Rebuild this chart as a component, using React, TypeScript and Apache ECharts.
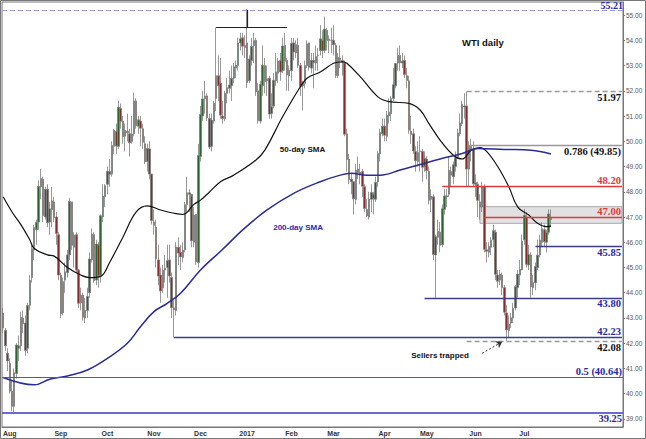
import React, { useEffect, useRef } from "react";
import * as echarts from "echarts";

// ---------- calendar (trading days, US holidays removed) ----------
const FIRST_DAY = [2016, 6, 27];
const SLOT_COUNT = 280;
const HOLIDAYS = [
  "2016-09-05", "2016-11-24", "2016-12-26", "2017-01-02", "2017-01-16",
  "2017-02-20", "2017-04-14", "2017-05-29", "2017-07-04", "2017-09-04",
];
const MONTHS = ["Jan", "Feb", "Mar", "Apr", "May", "Jun", "Jul", "Aug", "Sep", "Oct", "Nov", "Dec"];

// ---------- daily candles [open, close, low, high] ----------
const ohlc: number[][] = [
  // Jul 2016
  [43.2, 42.6, 42.4, 43.4], [42.5, 41.9, 41.7, 42.6], [41.6, 41.3, 40.9, 41.8],
  // Aug
  [41.2, 40.1, 40.0, 41.4], [40.1, 39.5, 39.3, 40.5], [39.5, 40.83, 39.19, 41.0], [40.8, 41.93, 40.6, 42.0],
  [41.9, 41.8, 41.3, 42.3], [41.9, 43.02, 41.7, 43.25], [43.0, 42.77, 42.4, 43.3], [42.8, 41.71, 41.5, 43.1],
  [41.8, 43.49, 41.6, 43.6], [43.5, 44.49, 43.3, 44.7], [44.6, 45.74, 44.4, 45.9], [45.7, 46.58, 45.3, 46.7],
  [46.5, 46.79, 45.9, 46.9], [46.8, 48.22, 46.5, 48.45], [48.2, 48.52, 47.7, 48.9], [48.5, 47.05, 46.8, 48.6],
  [47.0, 48.1, 46.9, 48.2], [48.1, 46.77, 46.6, 48.3], [46.8, 47.33, 46.3, 47.6], [47.3, 47.64, 46.6, 48.2],
  [47.6, 46.98, 46.8, 47.8], [47.0, 46.35, 45.9, 47.2], [46.3, 44.7, 44.5, 46.4],
  // Sep
  [44.7, 43.16, 43.0, 44.8], [43.2, 44.44, 43.1, 44.6], [44.5, 44.83, 44.0, 45.2], [44.8, 45.5, 44.6, 45.7],
  [45.5, 47.62, 45.3, 47.75], [47.6, 45.88, 45.7, 47.6], [45.8, 46.29, 45.0, 46.4], [46.3, 44.9, 44.8, 46.4],
  [44.9, 43.58, 43.4, 44.95], [43.6, 43.91, 43.3, 44.2], [43.9, 43.03, 42.9, 44.0], [43.0, 43.3, 42.8, 43.8],
  [43.3, 43.85, 43.0, 44.2], [44.0, 45.34, 43.8, 45.6], [45.3, 46.32, 45.2, 46.55], [46.3, 44.48, 44.4, 46.4],
  [44.5, 45.93, 44.3, 46.1], [45.9, 44.67, 44.2, 46.0], [44.7, 47.05, 44.4, 47.1], [47.0, 47.83, 46.8, 48.3],
  [47.8, 48.24, 47.4, 48.3],
  // Oct
  [48.3, 48.81, 47.9, 49.0], [48.8, 48.69, 48.2, 49.3], [48.7, 49.83, 48.6, 50.0], [49.8, 50.44, 49.5, 50.5],
  [50.4, 49.81, 49.5, 50.7], [49.8, 51.35, 49.7, 51.6], [51.3, 50.79, 50.5, 51.5], [50.8, 50.18, 49.9, 51.0],
  [50.2, 50.44, 49.6, 50.7], [50.4, 50.35, 50.0, 51.1], [50.3, 49.94, 49.4, 50.5], [50.0, 50.29, 49.9, 51.0],
  [50.3, 51.6, 50.2, 51.93], [51.6, 50.63, 50.5, 51.7], [50.6, 50.85, 50.3, 51.0], [50.8, 50.52, 49.8, 51.0],
  [50.5, 49.96, 49.7, 50.7], [49.9, 49.18, 49.1, 50.2], [49.2, 49.72, 48.8, 49.9], [49.7, 48.7, 48.5, 50.0],
  [48.7, 46.86, 46.7, 48.7],
  // Nov
  [46.8, 46.67, 46.3, 47.3], [46.6, 45.34, 45.0, 46.9], [45.3, 44.66, 44.3, 45.9], [44.7, 44.07, 43.6, 45.0],
  [44.2, 44.89, 44.0, 45.1], [44.9, 44.98, 44.4, 45.5], [45.0, 45.27, 43.8, 45.9], [45.3, 44.66, 44.4, 45.9],
  [44.6, 43.41, 43.0, 44.8], [43.4, 43.32, 42.23, 43.7], [43.3, 45.81, 43.1, 46.0], [45.8, 45.57, 45.1, 46.2],
  [45.6, 45.42, 44.9, 45.9], [45.4, 45.69, 45.2, 46.0], [45.7, 47.49, 45.6, 47.6], [47.5, 47.96, 47.2, 48.6],
  [47.9, 47.96, 47.2, 48.1], [47.9, 46.06, 45.8, 47.8], [46.0, 47.08, 45.8, 47.4], [47.1, 45.23, 45.1, 47.1],
  [45.2, 49.44, 45.0, 49.9],
  // Dec
  [49.4, 51.06, 49.2, 51.4], [51.0, 51.68, 50.8, 52.0], [51.7, 51.79, 51.1, 52.4], [51.8, 50.93, 50.8, 51.9],
  [50.9, 49.77, 49.7, 51.1], [49.8, 50.84, 49.6, 51.1], [50.8, 51.5, 50.7, 51.6], [51.7, 52.6, 51.2, 54.51],
  [52.6, 52.2, 51.6, 53.4], [52.3, 51.04, 50.9, 53.3], [51.0, 50.9, 50.7, 51.6], [50.9, 51.9, 50.8, 52.0],
  [51.9, 52.12, 51.5, 52.5], [52.1, 52.23, 51.9, 52.8], [52.2, 52.49, 51.6, 53.0], [52.5, 52.95, 52.3, 53.1],
  [52.9, 53.02, 52.5, 53.2], [53.0, 53.9, 52.8, 54.1], [53.9, 54.06, 53.6, 54.3], [54.1, 53.77, 53.4, 54.3],
  [53.8, 53.72, 53.3, 54.2],
  // Jan 2017
  [53.9, 52.33, 52.11, 55.24], [52.4, 53.26, 52.3, 53.4], [53.2, 53.76, 53.0, 54.1], [53.8, 53.99, 53.1, 54.3],
  [54.0, 51.96, 51.8, 54.1], [52.0, 50.82, 50.7, 52.3], [50.8, 52.25, 50.7, 52.4], [52.2, 53.01, 51.8, 53.8],
  [53.0, 52.37, 51.9, 53.3], [52.4, 52.48, 51.8, 53.0], [52.5, 51.08, 50.9, 52.6], [51.1, 51.37, 50.9, 51.9],
  [51.4, 52.42, 51.3, 52.7], [52.4, 52.75, 52.2, 53.5], [52.7, 53.18, 52.3, 53.3], [53.2, 52.75, 52.4, 53.5],
  [52.8, 53.78, 52.7, 54.1], [53.8, 53.17, 52.8, 54.3], [53.2, 52.63, 52.0, 53.3], [52.6, 52.81, 52.0, 53.0],
  // Feb
  [52.8, 53.88, 52.4, 54.1], [53.9, 53.54, 53.2, 54.1], [53.5, 53.83, 53.3, 54.0], [53.8, 53.01, 52.9, 54.1],
  [53.0, 52.17, 51.8, 53.1], [52.2, 52.34, 51.22, 52.4], [52.3, 53.0, 52.1, 53.2], [53.0, 53.86, 52.9, 54.0],
  [53.9, 52.93, 52.8, 53.9], [52.9, 53.2, 52.7, 53.5], [53.2, 53.11, 52.1, 53.5], [53.1, 53.36, 52.8, 53.8],
  [53.4, 53.4, 52.8, 53.7], [53.6, 54.06, 53.4, 54.6], [54.0, 53.59, 53.3, 54.4], [53.6, 54.45, 53.5, 54.94],
  [54.4, 53.99, 53.6, 54.5], [54.0, 54.05, 53.5, 54.2], [54.0, 54.01, 53.5, 54.5],
  // Mar
  [54.0, 53.83, 53.4, 54.6], [53.8, 52.61, 52.5, 53.9], [52.6, 53.33, 52.5, 53.5], [53.3, 53.2, 52.9, 53.8],
  [53.2, 53.14, 52.6, 53.4], [53.1, 50.28, 50.2, 53.2], [50.3, 49.28, 48.8, 50.5], [49.3, 48.49, 48.3, 49.5],
  [48.5, 48.4, 47.9, 48.7], [48.4, 47.72, 47.1, 48.4], [47.7, 48.86, 47.5, 49.1], [48.9, 48.75, 48.5, 49.4],
  [48.7, 48.78, 48.3, 49.1], [48.8, 48.22, 47.8, 48.9], [48.2, 47.34, 47.2, 48.3], [47.3, 47.04, 47.0, 47.7],
  [47.0, 47.7, 46.9, 48.0], [47.7, 47.97, 47.2, 48.3], [47.9, 47.73, 47.1, 48.0], [47.7, 48.37, 47.6, 48.6],
  [48.4, 49.51, 48.2, 49.6], [49.5, 50.35, 49.2, 50.5], [50.3, 50.6, 50.2, 50.9],
  // Apr
  [50.6, 50.24, 50.0, 50.9], [50.2, 51.03, 50.0, 51.2], [51.0, 51.15, 50.7, 51.7], [51.1, 51.7, 50.8, 51.8],
  [51.7, 52.24, 51.6, 52.9], [52.2, 53.08, 52.1, 53.1], [53.1, 53.4, 52.8, 53.7], [53.4, 53.11, 52.8, 53.8],
  [53.1, 53.18, 52.9, 53.5], [53.2, 52.65, 52.5, 53.4], [52.6, 52.41, 52.1, 52.9], [52.4, 50.44, 50.3, 52.6],
  [50.4, 50.27, 49.9, 51.0], [50.3, 49.62, 49.5, 50.5], [49.6, 49.23, 48.8, 49.8], [49.2, 49.56, 49.0, 50.0],
  [49.6, 49.62, 48.8, 50.2], [49.6, 48.97, 48.4, 49.7], [49.0, 49.33, 48.8, 49.6],
  // May
  [49.3, 48.84, 48.5, 49.4], [48.8, 47.66, 47.5, 49.0], [47.7, 47.82, 47.2, 48.1], [47.8, 45.52, 45.3, 47.9],
  [45.5, 46.22, 43.76, 46.3], [46.2, 46.43, 45.9, 46.9], [46.4, 45.88, 45.6, 46.8], [45.9, 47.33, 45.8, 47.5],
  [47.3, 47.83, 47.1, 48.1], [47.8, 47.84, 47.4, 48.1], [47.9, 48.85, 47.8, 49.4], [48.8, 48.66, 48.2, 49.0],
  [48.6, 49.07, 48.3, 49.2], [49.0, 49.35, 48.8, 49.6], [49.4, 50.33, 49.3, 50.5], [50.3, 50.73, 50.2, 51.1],
  [50.7, 51.47, 50.6, 51.6], [51.4, 51.36, 50.9, 51.9], [51.4, 48.9, 48.2, 51.97], [48.9, 49.8, 48.2, 50.0],
  [49.8, 49.66, 49.2, 50.1], [49.7, 48.32, 48.2, 50.0],
  // Jun
  [48.3, 48.36, 47.8, 48.7], [48.3, 47.66, 47.0, 48.4], [47.6, 47.4, 46.9, 47.9], [47.4, 48.19, 47.2, 48.4],
  [48.2, 45.72, 45.6, 48.3], [45.7, 45.64, 45.2, 46.0], [45.6, 45.83, 45.4, 46.0], [45.8, 46.08, 45.5, 46.2],
  [46.1, 46.46, 45.8, 46.7], [46.4, 44.73, 44.5, 46.5], [44.7, 44.46, 44.2, 44.9], [44.5, 44.74, 44.3, 44.9],
  [44.7, 44.2, 43.9, 44.8], [44.2, 43.23, 43.1, 44.3], [43.2, 42.53, 42.08, 43.5], [42.5, 42.74, 42.2, 43.1],
  [42.8, 43.01, 42.6, 43.2], [43.0, 43.38, 42.8, 43.6], [43.4, 44.24, 43.3, 44.3], [44.2, 44.74, 43.8, 44.9],
  [44.7, 44.93, 44.3, 45.3], [44.9, 46.04, 44.9, 46.3],
  // Jul
  [46.1, 47.07, 45.9, 47.32], [47.0, 45.13, 45.0, 47.2], [45.1, 45.52, 44.9, 45.9], [45.5, 44.23, 43.8, 45.6],
  [44.2, 44.4, 43.9, 44.7], [44.4, 45.04, 44.1, 45.2], [45.0, 45.49, 44.9, 46.1], [45.5, 46.08, 45.4, 46.3],
  [46.0, 46.54, 45.8, 46.8], [46.5, 46.02, 45.8, 46.7], [46.0, 46.4, 45.6, 46.5], [46.4, 47.12, 46.3, 47.3],
  [46.9, 46.96, 46.6, 47.3],
];

// ---------- moving averages [date, value] ----------
const sma50: [string, number][] = [
  ["2016-07-27", 47.8], ["2016-08-02", 47.2], ["2016-08-08", 46.7], ["2016-08-12", 46.1], ["2016-08-16", 45.75],
  ["2016-08-24", 45.5], ["2016-08-29", 45.45], ["2016-09-07", 45.0], ["2016-09-15", 44.7], ["2016-09-21", 44.6],
  ["2016-09-28", 44.65], ["2016-10-04", 45.2], ["2016-10-12", 46.2], ["2016-10-20", 47.2], ["2016-10-27", 47.44],
  ["2016-11-04", 47.28], ["2016-11-14", 47.15], ["2016-11-18", 47.1], ["2016-11-28", 47.5], ["2016-12-01", 47.67],
  ["2016-12-06", 47.9], ["2016-12-14", 48.4], ["2016-12-22", 48.66], ["2017-01-09", 49.26], ["2017-01-13", 49.65],
  ["2017-01-26", 50.97], ["2017-02-07", 52.16], ["2017-02-10", 52.5], ["2017-02-21", 52.75], ["2017-03-01", 53.09],
  ["2017-03-07", 53.15], ["2017-03-09", 53.09], ["2017-03-17", 52.56], ["2017-03-29", 51.76], ["2017-04-05", 51.57],
  ["2017-04-19", 51.5], ["2017-04-26", 51.24], ["2017-05-02", 50.7], ["2017-05-09", 50.05], ["2017-05-17", 49.45],
  ["2017-05-23", 49.3], ["2017-05-30", 49.65], ["2017-06-05", 49.75], ["2017-06-08", 49.6], ["2017-06-15", 49.0],
  ["2017-06-22", 48.2], ["2017-06-28", 47.4], ["2017-07-06", 47.08], ["2017-07-12", 46.75], ["2017-07-18", 46.62],
  ["2017-07-20", 46.64],
];
const sma200: [string, number][] = [
  ["2016-07-27", 40.64], ["2016-08-16", 40.35], ["2016-08-25", 40.57], ["2016-09-07", 40.7], ["2016-09-20", 40.94],
  ["2016-10-03", 41.4], ["2016-10-14", 42.0], ["2016-10-24", 42.66], ["2016-11-01", 43.25], ["2016-11-09", 43.58],
  ["2016-11-17", 43.98], ["2016-12-01", 44.9], ["2016-12-15", 45.72], ["2016-12-29", 46.49], ["2017-01-17", 47.28],
  ["2017-02-02", 47.94], ["2017-02-21", 48.4], ["2017-03-06", 48.66], ["2017-03-13", 48.73], ["2017-03-22", 48.66],
  ["2017-03-30", 48.66], ["2017-04-12", 48.86], ["2017-04-26", 49.08], ["2017-05-09", 49.3], ["2017-05-23", 49.52],
  ["2017-06-02", 49.72], ["2017-06-20", 49.68], ["2017-07-07", 49.65], ["2017-07-20", 49.5],
];

// ---------- annotated levels ----------
const TOP_LEVEL = 55.21;
const FIB_50 = 40.64;
const BOTTOM_LEVEL = 39.25;
const RANGE_TOP = 54.51;
const RANGE_FROM = "2016-12-12";
const RANGE_TO = "2017-01-30";
const JAN_HIGH_DAY = "2017-01-03";
const MAY_HIGH = 51.97;
const MAY_HIGH_DAY = "2017-05-25";
const FIB_786 = 49.85;
const FIB_786_FROM = "2017-05-26";
const RES_4820 = 48.2;
const FIB_618 = 48.19;
const RES_4820_FROM = "2017-05-10";
const BAND = [47.41, 46.75];
const BAND_FROM = "2017-06-05";
const RES_4700 = 47.0;
const RES_4700_FROM = "2017-06-07";
const SUP_4585 = 45.85;
const SUP_4585_FROM = "2017-07-11";
const SUP_4380 = 43.8;
const SUP_4380_FROM = "2017-04-28";
const SUP_4223 = 42.23;
const SUP_4223_FROM = "2016-11-14";
const LOW_4208 = 42.08;
const LOW_4208_FROM = "2017-05-25";
const ARROW_FROM: [string, number] = ["2017-06-06", 41.6];
const ARROW_TO: [string, number] = ["2017-06-19", 42.06];
const SELLERS_AT: [string, number] = ["2017-05-09", 41.53];
const SMA50_TEXT_AT: [string, number] = ["2017-02-08", 49.67];
const SMA200_TEXT_AT: [string, number] = ["2017-02-06", 46.58];
const BADGES = [49.5, 46.96, 46.64];

function buildDates(): string[] {
  const out: string[] = [];
  const d = new Date(Date.UTC(FIRST_DAY[0], FIRST_DAY[1], FIRST_DAY[2]));
  while (out.length < SLOT_COUNT) {
    const wd = d.getUTCDay();
    const s = d.toISOString().slice(0, 10);
    if (wd !== 0 && wd !== 6 && !HOLIDAYS.includes(s)) out.push(s);
    d.setUTCDate(d.getUTCDate() + 1);
  }
  return out;
}

export default function App() {
  const ref = useRef<HTMLDivElement>(null);
  useEffect(() => {
    if (!ref.current) return;
    const chart = echarts.init(ref.current, undefined, { renderer: "svg" });
    const dates = buildDates();
    const LAST = dates[dates.length - 1];
    const BLUE = "#2a2aa6";
    const RED = "#e03a3a";
    const ABOVE = "insideEndTop";
    const BELOW = "insideEndBottom";
    const serifLabel = (color: string, text: string, pos: string) => ({
      show: true,
      position: pos,
      distance: 1,
      formatter: text,
      color,
      fontFamily: "Liberation Serif",
      fontSize: 10.5,
      lineHeight: 10,
      fontWeight: "bold",
    });
    const noLabel = { show: false };
    const seg = (v: number, from: string, lineStyle: any, label: any) => [
      { coord: [from, v], lineStyle, label },
      { coord: [LAST, v] },
    ];
    const badge = (v: number, bg: string) => ({
      yAxis: v,
      lineStyle: { opacity: 0 },
      label: {
        show: true,
        position: "end",
        distance: 2,
        formatter: v.toFixed(2),
        color: "#fff",
        backgroundColor: bg,
        padding: [1, 1, 0, 1],
        fontSize: 6.5,
        fontFamily: "Liberation Sans",
      },
    });
    const textPoint = (at: [string, number], text: string, color: string) => ({
      coord: at,
      symbol: "rect",
      symbolSize: 1,
      itemStyle: { color: "rgba(0,0,0,0)" },
      label: {
        show: true,
        position: "inside",
        formatter: text,
        color,
        fontSize: 8,
        fontWeight: "bold",
        fontFamily: "Liberation Sans",
      },
    });
    const topLabel = { ...serifLabel(BLUE, "55.21", ABOVE), distance: 0, fontSize: 10, lineHeight: 9 };

    const option: any = {
      animation: false,
      backgroundColor: "#fff",
      title: {
        text: "WTI daily",
        left: 462,
        top: 37,
        padding: 0,
        textStyle: { fontSize: 9.5, fontWeight: "bold", color: "#111", fontFamily: "Liberation Sans" },
      },
      graphic: [
        {
          type: "rect",
          shape: { x: 0.5, y: 0.5, width: 645, height: 438 },
          style: { fill: "none", stroke: "#777", lineWidth: 1 },
          silent: true,
        },
      ],
      grid: { left: 2, right: 23, top: 2, bottom: 12, show: true, borderColor: "#777", borderWidth: 1 },
      xAxis: {
        type: "category",
        data: dates,
        boundaryGap: true,
        axisLine: { lineStyle: { color: "#777" } },
        axisTick: { show: false },
        splitLine: { show: false },
        axisLabel: {
          interval: (i: number) => i > 0 && i < ohlc.length && dates[i].slice(5, 7) !== dates[i - 1].slice(5, 7),
          formatter: (v: string) => {
            const m = +v.slice(5, 7);
            return m === 1 ? v.slice(0, 4) : MONTHS[m - 1];
          },
          fontSize: 7,
          fontWeight: "bold",
          color: "#333",
          margin: 3,
          fontFamily: "Liberation Sans",
        },
      },
      yAxis: {
        type: "value",
        position: "right",
        min: 38.68,
        max: 55.52,
        splitNumber: 16,
        minInterval: 1,
        maxInterval: 1,
        splitLine: { show: false },
        axisLine: { show: true, lineStyle: { color: "#777" } },
        axisTick: { show: true, length: 2, lineStyle: { color: "#777" } },
        axisLabel: {
          showMinLabel: false,
          showMaxLabel: false,
          formatter: (v: number) => (Math.abs(v - Math.round(v)) < 1e-6 ? v.toFixed(2) : ""),
          fontSize: 6.5,
          color: "#555",
          margin: 3,
          fontFamily: "Liberation Sans",
        },
      },
      series: [
        {
          type: "candlestick",
          data: ohlc,
          barWidth: 2,
          itemStyle: {
            color: "#2a6630",
            color0: "#8a2a2a",
            borderColor: "#7e7e7e",
            borderColor0: "#7e7e7e",
            borderWidth: 0.8,
          },
          markArea: {
            silent: true,
            data: [
              [
                { coord: [BAND_FROM, BAND[0]], itemStyle: { color: "rgba(200,200,200,0.55)", borderColor: "#aaa", borderWidth: 1 } },
                { coord: [LAST, BAND[1]] },
              ],
            ],
          },
          markLine: {
            silent: true,
            symbol: ["none", "none"],
            precision: 2,
            data: [
              { yAxis: TOP_LEVEL, lineStyle: { color: "#9a9ad8", type: [5, 3], width: 1.2 }, label: topLabel },
              { yAxis: FIB_50, lineStyle: { color: "#5656a8", type: "solid", width: 1 }, label: serifLabel(BLUE, "0.5 (40.64)", ABOVE) },
              { yAxis: BOTTOM_LEVEL, lineStyle: { color: "#6a6ad0", type: "solid", width: 2 }, label: serifLabel(BLUE, "39.25", BELOW) },
              [
                { coord: [RANGE_FROM, RANGE_TOP], lineStyle: { color: "#222", type: "solid", width: 1.2 }, label: noLabel },
                { coord: [RANGE_TO, RANGE_TOP] },
              ],
              [
                { coord: [JAN_HIGH_DAY, TOP_LEVEL], lineStyle: { color: "#222", type: "solid", width: 1.2 }, label: noLabel },
                { coord: [JAN_HIGH_DAY, RANGE_TOP] },
              ],
              seg(MAY_HIGH, MAY_HIGH_DAY, { color: "#999", type: [5, 3], width: 1.3 }, serifLabel("#111", "51.97", BELOW)),
              seg(FIB_786, FIB_786_FROM, { color: "#999", type: "solid", width: 1.3 }, serifLabel("#111", "0.786 (49.85)", BELOW)),
              seg(RES_4820, RES_4820_FROM, { color: RED, type: "solid", width: 1.3 }, serifLabel(RED, "48.20", ABOVE)),
              seg(FIB_618, RES_4820_FROM, { opacity: 0 }, serifLabel("#111", "0.618 (48.19)", BELOW)),
              seg(RES_4700, RES_4700_FROM, { color: RED, type: "solid", width: 1.3 }, serifLabel(RED, "47.00", ABOVE)),
              seg(SUP_4585, SUP_4585_FROM, { color: "#3c3c8c", type: "solid", width: 1.3 }, serifLabel(BLUE, "45.85", BELOW)),
              seg(SUP_4380, SUP_4380_FROM, { color: "#3c3c8c", type: "solid", width: 1.3 }, serifLabel(BLUE, "43.80", BELOW)),
              seg(SUP_4223, SUP_4223_FROM, { color: "#3c3c8c", type: "solid", width: 1.3 }, serifLabel(BLUE, "42.23", ABOVE)),
              seg(LOW_4208, LOW_4208_FROM, { color: "#999", type: [5, 3], width: 1.3 }, serifLabel("#111", "42.08", BELOW)),
              [
                { coord: ARROW_FROM, lineStyle: { color: "#333", type: [2, 2], width: 1 }, label: noLabel, symbol: "none" },
                { coord: ARROW_TO, symbol: "arrow", symbolSize: 6 },
              ],
              badge(BADGES[0], "#2c2cc0"),
              badge(BADGES[1], "#1c9a48"),
              badge(BADGES[2], "#111"),
            ],
          },
          markPoint: {
            silent: true,
            data: [
              textPoint(SMA50_TEXT_AT, "50-day SMA", "#111"),
              textPoint(SMA200_TEXT_AT, "200-day SMA", "#2a2ab0"),
              textPoint(SELLERS_AT, "Sellers trapped", "#111"),
            ],
          },
        },
        {
          type: "line",
          data: sma50,
          smooth: 0.4,
          showSymbol: false,
          lineStyle: { color: "#111", width: 1.2 },
          z: 3,
        },
        {
          type: "line",
          data: sma200,
          smooth: 0.4,
          showSymbol: false,
          lineStyle: { color: "#2a2a9a", width: 1.5 },
          z: 3,
        },
      ],
    };
    chart.setOption(option);
    return () => chart.dispose();
  }, []);
  return (
    <div
      ref={ref}
      style={{ position: "fixed", left: 0, top: 0, width: 646, height: 439, background: "#fff" }}
    />
  );
}
